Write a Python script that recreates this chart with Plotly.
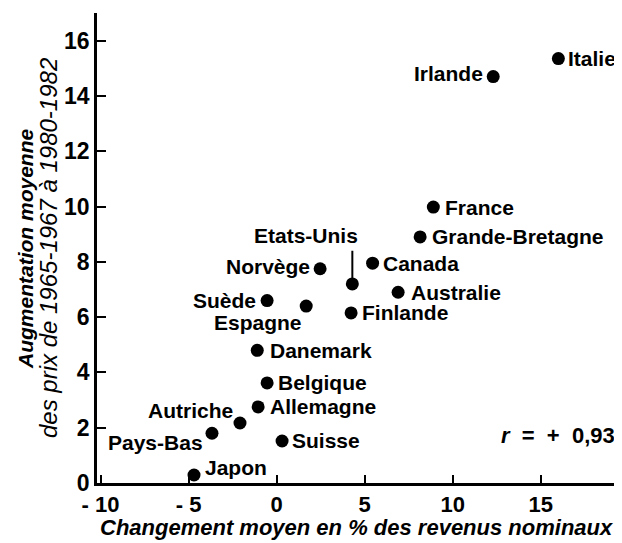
import plotly.graph_objects as go

# ---- data ----
countries = ["Italie", "Irlande", "France", "Grande-Bretagne", "Canada", "Etats-Unis",
             "Australie", "Finlande", "Norvège", "Espagne", "Suède", "Danemark",
             "Belgique", "Allemagne", "Autriche", "Pays-Bas", "Suisse", "Japon"]
revenue_change = [16.0, 12.3, 8.9, 8.15, 5.45, 4.3, 6.9, 4.23, 2.47, 1.68, -0.54, -1.1,
                  -0.54, -1.05, -2.08, -3.67, 0.31, -4.69]
price_increase = [15.35, 14.7, 9.98, 8.9, 7.95, 7.2, 6.9, 6.15, 7.75, 6.4, 6.6, 4.8,
                  3.62, 2.75, 2.17, 1.8, 1.52, 0.29]
x_tickvals = [-10, -5, 0, 5, 10, 15]
x_ticktext = ["- 10", "- 5", "0", "5", "10", "15"]
y_tickvals = [0, 2, 4, 6, 8, 10, 12, 14, 16]
correlation_text = "<b><i>r</i>&nbsp; = &nbsp;+ &nbsp;0,93</b>"

# ---- label placement (style) : (side, xshift, yshift) ----
placement = {
    "Italie": ("r", 8, 0), "Irlande": ("l", -8, 3), "France": ("r", 10, 0),
    "Grande-Bretagne": ("r", 10, 0), "Canada": ("r", 8, 0), "Etats-Unis": ("us", 0, 0),
    "Australie": ("r", 11, 0), "Finlande": ("r", 9, 0), "Norvège": ("l", -8, 2),
    "Espagne": ("l", -2, -16), "Suède": ("l", -9, 0), "Danemark": ("r", 11, 0),
    "Belgique": ("r", 9, 0), "Allemagne": ("r", 10, 0), "Autriche": ("l", -5, 13),
    "Pays-Bas": ("l", -7, -9), "Suisse": ("r", 8, 0), "Japon": ("r", 9, 7),
}

FONT = "Liberation Sans, Arial, sans-serif"
lab_font = dict(family=FONT, size=21, color="black")

fig = go.Figure()
fig.add_trace(go.Scatter(
    x=revenue_change, y=price_increase, mode="markers",
    marker=dict(size=13, color="black"), hoverinfo="skip", showlegend=False))

annotations = []
shapes = []
for name, xv, yv in zip(countries, revenue_change, price_increase):
    side, xs, ys = placement[name]
    if side == "us":
        shapes.append(dict(type="line", xref="x", yref="y", x0=xv, x1=xv,
                           y0=yv, y1=yv + 1.2, line=dict(color="black", width=2)))
        annotations.append(dict(x=xv, y=yv + 1.2, xref="x", yref="y", text=f"<b>{name}</b>",
                                showarrow=False, xanchor="right", yanchor="bottom",
                                xshift=8, yshift=2, font=lab_font))
    else:
        annotations.append(dict(x=xv, y=yv, xref="x", yref="y", text=f"<b>{name}</b>",
                                showarrow=False, xanchor="left" if side == "r" else "right",
                                yanchor="middle", xshift=xs, yshift=ys, font=lab_font))

annotations.append(dict(x=1, y=0.102, xref="paper", yref="paper", text=correlation_text,
                        showarrow=False, xanchor="right", yanchor="middle", xshift=-3,
                        font=dict(family=FONT, size=22, color="black")))
annotations.append(dict(x=-0.1377, y=0.5, xref="paper", yref="paper",
                        text="<b><i>Augmentation moyenne</i></b>", textangle=-90,
                        showarrow=False, xanchor="center", yanchor="middle",
                        font=dict(family=FONT, size=21, color="black")))
annotations.append(dict(x=-0.0936, y=0.5, xref="paper", yref="paper",
                        text="<i>des prix de 1965-1967 à 1980-1982</i>", textangle=-90,
                        showarrow=False, xanchor="center", yanchor="middle",
                        font=dict(family=FONT, size=24, color="black")))
annotations.append(dict(x=0.5, y=-0.094, xref="paper", yref="paper",
                        text="<b><i>Changement moyen en % des revenus nominaux</i></b>",
                        showarrow=False, xanchor="center", yanchor="middle", xshift=-2,
                        font=dict(family=FONT, size=22, color="black")))

# the page adds an 8px body margin, so the figure is drawn 8px smaller and shifted
fig.update_layout(
    width=614, height=535,
    margin=dict(l=89, r=2, t=5, b=60),
    paper_bgcolor="white", plot_bgcolor="white",
    annotations=annotations, shapes=shapes,
    xaxis=dict(range=[-10.2, 19.5], tickvals=x_tickvals,
               ticktext=[f"<b>{t}</b>" for t in x_ticktext],
               ticks="inside", ticklen=8, tickwidth=2, tickcolor="black",
               showline=True, linecolor="black", linewidth=2.5, showgrid=False,
               zeroline=False, automargin=False,
               tickfont=dict(family=FONT, size=22, color="black")),
    yaxis=dict(range=[0, 17], tickvals=y_tickvals,
               ticktext=[f"<b>{v}</b>" for v in y_tickvals],
               ticks="inside", ticklen=9, tickwidth=2, tickcolor="black",
               showline=True, linecolor="black", linewidth=2.5, showgrid=False,
               zeroline=False, automargin=False,
               tickfont=dict(family=FONT, size=23, color="black")),
)

fig.write_html("out.html")
